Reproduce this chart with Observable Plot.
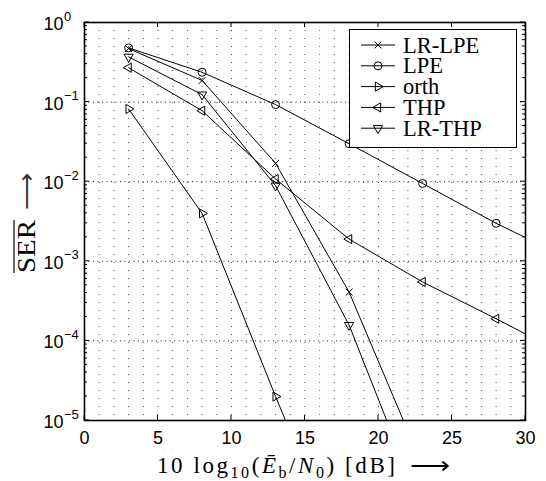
<!DOCTYPE html>
<html><head><meta charset="utf-8">
<script src="https://cdn.jsdelivr.net/npm/d3@7"></script>
<script src="https://cdn.jsdelivr.net/npm/@observablehq/plot@0.6"></script>
<style>body{margin:0;background:#fff}#chart{width:546px;height:481px}</style>
</head><body><div id="chart"></div>
<script>
// ---- data ----
const snr = [3, 8, 13, 18, 23, 28, 33];
const seriesNames = ["LR-LPE", "LPE", "orth", "THP", "LR-THP"];
const serLrLpe = [0.47, 0.187, 0.017, 4.1e-4, 2.7e-6];
const serLpe   = [0.48, 0.237, 0.093, 0.030, 0.0095, 0.0030, 1.07e-3];
const serOrth  = [0.082, 0.0040, 2.0e-5, 1.2e-7];
const serThp   = [0.27, 0.078, 0.0108, 0.0019, 5.5e-4, 1.9e-4, 6.3e-5];
const serLrThp = [0.37, 0.124, 0.0089, 1.58e-4, 7.2e-7];
const xTicks = [0, 5, 10, 15, 20, 25, 30];
const xGrid = d3.range(1, 30);
const yDecadeExps = [0, -1, -2, -3, -4, -5];
const yMinorMant = [2, 3, 4, 5, 6, 7, 8, 9];

const seriesValues = {"LR-LPE": serLrLpe, "LPE": serLpe, "orth": serOrth, "THP": serThp, "LR-THP": serLrThp};
const markerSym = {"LR-LPE": "times", "LPE": "circle", "orth": "triangle", "THP": "triangle", "LR-THP": "triangle"};
const markerRot = {"LR-LPE": 0, "LPE": 0, "orth": 90, "THP": -90, "LR-THP": 180};
const markerR = {"LR-LPE": 3.2, "LPE": 4, "orth": 3.4, "THP": 3.4, "LR-THP": 3.4};

const rows = [];
for (const s of seriesNames) seriesValues[s].forEach((v, i) => rows.push({series: s, snr: snr[i], ser: v}));

const yDecades = yDecadeExps.map(e => Math.pow(10, e));
const yMinor = [];
for (const e of yDecadeExps.slice(1)) for (const m of yMinorMant) yMinor.push(m * Math.pow(10, e));

const marks = [
  Plot.ruleX(xGrid, {stroke: "#000", strokeOpacity: 0.7, strokeDasharray: "1,7"}),
  Plot.ruleY(yDecades.slice(1, -1), {stroke: "#000", strokeOpacity: 0.85, strokeDasharray: "1,3.5"}),
];
for (const s of seriesNames) {
  const data = rows.filter(d => d.series === s);
  marks.push(Plot.line(data, {x: "snr", y: "ser", stroke: "black", strokeWidth: 1, clip: true}));
  marks.push(Plot.dot(data, {x: "snr", y: "ser", symbol: markerSym[s], rotate: markerRot[s], r: markerR[s], stroke: "black", strokeWidth: 1, fill: "none", clip: true}));
}
marks.push(Plot.frame({stroke: "black", strokeWidth: 1.6}));

const plot = Plot.plot({
  width: 546, height: 481,
  marginLeft: 84, marginRight: 21, marginTop: 22, marginBottom: 61,
  style: {fontFamily: "'Liberation Sans', Arial, sans-serif", fontSize: "18px", color: "black", background: "white"},
  x: {domain: [0, 30], ticks: xTicks, tickSize: 0, tickPadding: 11, label: null},
  y: {type: "log", domain: [1e-5, 1], axis: null},
  marks
});
document.getElementById("chart").appendChild(plot);

const sx = plot.scale("x"), sy = plot.scale("y");
const svg = d3.select(plot);
const X0 = sx.apply(0), X1 = sx.apply(30), Y0 = sy.apply(1e-5), Y1 = sy.apply(1);
const g = svg.append("g").attr("stroke", "black").attr("stroke-width", 1);
// inward ticks
for (const t of xTicks) {
  const x = sx.apply(t);
  g.append("line").attr("x1", x).attr("x2", x).attr("y1", Y0).attr("y2", Y0 - 5);
  g.append("line").attr("x1", x).attr("x2", x).attr("y1", Y1).attr("y2", Y1 + 5);
}
for (const v of yDecades) {
  const y = sy.apply(v);
  g.append("line").attr("x1", X0).attr("x2", X0 + 5).attr("y1", y).attr("y2", y);
  g.append("line").attr("x1", X1).attr("x2", X1 - 5).attr("y1", y).attr("y2", y);
}
for (const v of yMinor) {
  const y = sy.apply(v);
  g.append("line").attr("x1", X0).attr("x2", X0 + 3).attr("y1", y).attr("y2", y);
  g.append("line").attr("x1", X1).attr("x2", X1 - 3).attr("y1", y).attr("y2", y);
}
// y tick labels 10^k
const yl = svg.append("g").attr("font-family", "'Liberation Sans', Arial, sans-serif").attr("fill", "black");
for (const e of yDecadeExps) {
  const y = sy.apply(Math.pow(10, e));
  yl.append("text").attr("x", X0 - 20.5).attr("y", y + 8).attr("text-anchor", "end").attr("font-size", 18).text("10");
  yl.append("text").attr("x", X0 - 20).attr("y", y - 1.5).attr("text-anchor", "start").attr("font-size", 13).text(e === 0 ? "0" : "\u2212" + (-e));
}
// axis titles
const serif = "'Liberation Serif', 'Times New Roman', serif";
const xt = svg.append("text").attr("x", 157).attr("y", 473).attr("text-anchor", "start")
  .attr("textLength", 238).attr("lengthAdjust", "spacing")
  .attr("font-family", serif).attr("font-size", 23).attr("fill", "black");
xt.append("tspan").text("10 log");
xt.append("tspan").attr("font-size", 16).attr("dy", 5).text("10");
xt.append("tspan").attr("dy", -5).text("(");
xt.append("tspan").attr("font-style", "italic").text("\u0112");
xt.append("tspan").attr("font-size", 16).attr("dy", 5).text("b");
xt.append("tspan").attr("dy", -5).text("/");
xt.append("tspan").attr("font-style", "italic").text("N");
xt.append("tspan").attr("font-size", 16).attr("dy", 5).text("0");
xt.append("tspan").attr("dy", -5).text(") [dB]");
svg.append("text").attr("x", 410).attr("y", 473).attr("text-anchor", "start")
  .attr("textLength", 40).attr("lengthAdjust", "spacingAndGlyphs")
  .attr("font-family", serif).attr("font-size", 23).attr("fill", "black").text("\u27F6");

svg.append("text").attr("transform", "translate(35,273) rotate(-90)").attr("text-anchor", "start")
  .attr("textLength", 53).attr("lengthAdjust", "spacingAndGlyphs")
  .attr("font-family", serif).attr("font-size", 26).attr("fill", "black").text("SER");
svg.append("line").attr("x1", 14).attr("x2", 14).attr("y1", 220).attr("y2", 273).attr("stroke", "black").attr("stroke-width", 1.2);
svg.append("text").attr("transform", "translate(35,210) rotate(-90)").attr("text-anchor", "start")
  .attr("textLength", 37).attr("lengthAdjust", "spacingAndGlyphs")
  .attr("font-family", serif).attr("font-size", 26).attr("fill", "#333").text("\u27F6");

// legend
const lg = svg.append("g");
lg.append("rect").attr("x", 349.5).attr("y", 29.5).attr("width", 167).attr("height", 118)
  .attr("fill", "white").attr("stroke", "black").attr("stroke-width", 1);
const symType = {times: d3.symbolTimes, circle: d3.symbolCircle, triangle: d3.symbolTriangle};
seriesNames.forEach((s, i) => {
  const y = 45 + i * 20.8;
  lg.append("line").attr("x1", 361).attr("x2", 395).attr("y1", y).attr("y2", y).attr("stroke", "black");
  lg.append("path").attr("d", d3.symbol(symType[markerSym[s]], Math.PI * markerR[s] ** 2)())
    .attr("transform", `translate(378,${y}) rotate(${markerRot[s]})`)
    .attr("fill", "none").attr("stroke", "black");
  lg.append("text").attr("x", 403).attr("y", y + 7.5).attr("text-anchor", "start").attr("font-family", serif).attr("font-size", 22.5)
    .attr("fill", "black").text(s);
});
</script></body></html>
